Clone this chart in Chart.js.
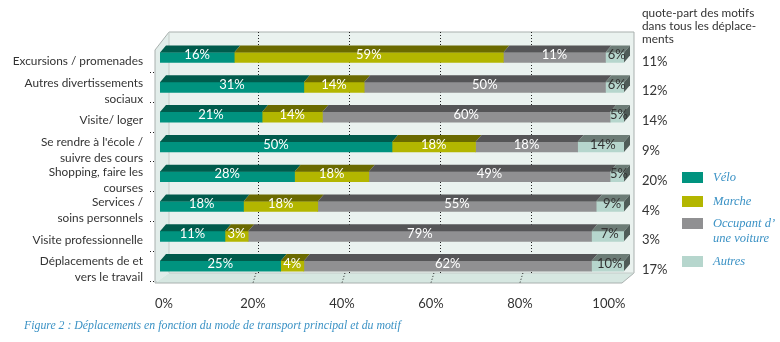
<!DOCTYPE html>
<html>
<head>
<meta charset="utf-8">
<script src="https://cdn.jsdelivr.net/npm/chart.js@4/dist/chart.umd.min.js"></script>
<style>
  body { margin: 0; background: #fff; }
  #wrap { width: 780px; height: 342px; }
</style>
</head>
<body>
<div id="wrap"><canvas id="chart" width="780" height="342"></canvas></div>
<script>
const motifs = [
    'Excursions / promenades',
    ['Autres divertissements', 'sociaux'],
    'Visite/ loger',
    ['Se rendre à l\'école /', 'suivre des cours'],
    ['Shopping, faire les', 'courses'],
    ['Services /', 'soins personnels'],
    'Visite professionnelle',
    ['Déplacements de et', 'vers le travail']
];

// bar lengths (%)
const velo    = [16, 31, 22, 50, 29, 18, 14, 26];
const marche  = [58, 13, 13, 18, 16, 16,  5,  5];
const voiture = [22, 52, 62, 22, 52, 60, 74, 62];
const autres  = [ 4,  4,  3, 10,  3,  6,  7,  7];

// printed labels on the bars
const veloLbl    = [16, 31, 21, 50, 28, 18, 11, 25];
const marcheLbl  = [59, 14, 14, 18, 18, 18,  3,  4];
const voitureLbl = [11, 50, 60, 18, 49, 55, 79, 62];
const autresLbl  = [ 6,  6,  5, 14,  5,  9,  7, 10];

// quote-part des motifs dans tous les déplacements
const quotePart = [11, 12, 14, 9, 20, 4, 3, 17];

const xTicks = [0, 20, 40, 60, 80, 100];

const fronts = ['#00937f', '#b3b600', '#909092', '#b6d6cd'];
const tops   = ['#005b4c', '#6a6a00', '#555557', '#6c7c76'];
const legendNames = [['Vélo'], ['Marche'], ['Occupant d’', 'une voiture'], ['Autres']];

const textCol = '#333333';
const blueCol = '#3b92c5';
const sans = 'Lato';
const DX = 6, DY = -7;

const walls3d = {
    id: 'walls3d',
    beforeDatasetsDraw(chart) {
        const { ctx, chartArea: ca, scales } = chart;
        const x = scales.x, xt = scales.xt;
        const bl = ca.left - 5, bt = ca.top - 10.6, br = ca.right + 10, bb = ca.bottom - 8;
        ctx.save();
        // back wall
        ctx.fillStyle = '#eaf2ef';
        ctx.fillRect(ca.left + 9, bt, br - ca.left - 9, bb - bt);
        // left wall
        ctx.fillStyle = '#e2edea';
        ctx.beginPath();
        ctx.moveTo(bl, bt + 18);
        ctx.lineTo(ca.left + 9, bt);
        ctx.lineTo(ca.left + 9, bb);
        ctx.lineTo(bl, ca.bottom + 2);
        ctx.closePath();
        ctx.fill();
        // floor
        ctx.fillStyle = '#d6e7e1';
        ctx.beginPath();
        ctx.moveTo(bl, ca.bottom + 2);
        ctx.lineTo(ca.left + 9, bb);
        ctx.lineTo(br, bb);
        ctx.lineTo(ca.right - 2, ca.bottom + 2);
        ctx.closePath();
        ctx.fill();
        // outlines
        ctx.strokeStyle = '#a9b0ae';
        ctx.lineWidth = 1;
        ctx.beginPath();
        ctx.moveTo(bl, ca.bottom + 2);
        ctx.lineTo(bl, bt + 18);
        ctx.lineTo(ca.left + 9, bt);
        ctx.lineTo(br, bt);
        ctx.lineTo(br, bb);
        ctx.lineTo(ca.right - 2, ca.bottom + 2);
        ctx.lineTo(bl, ca.bottom + 2);
        ctx.stroke();
        ctx.strokeStyle = '#c4ccc9';
        ctx.beginPath();
        ctx.moveTo(ca.left + 9, bt);
        ctx.lineTo(ca.left + 9, bb);
        ctx.lineTo(br, bb);
        ctx.stroke();
        // dotted grid on back wall and floor
        ctx.strokeStyle = '#222';
        ctx.setLineDash([1, 2]);
        xTicks.slice(1, -1).forEach(v => {
            const gx = Math.round(x.getPixelForValue(v) * 0.98 + 10) + 0.5;
            ctx.beginPath();
            ctx.moveTo(gx, bt);
            ctx.lineTo(gx, bb);
            ctx.stroke();
            const fx = xt.getPixelForValue(v);
            ctx.beginPath();
            ctx.moveTo(fx + 3, bb);
            ctx.lineTo(fx, ca.bottom + 2);
            ctx.stroke();
        });
        ctx.restore();
    },
    afterDatasetsDraw(chart) {
        const { ctx } = chart;
        const n = chart.data.datasets.length;
        ctx.save();
        chart.data.datasets.forEach((ds, di) => {
            chart.getDatasetMeta(di).data.forEach(bar => {
                const left = Math.min(bar.base, bar.x), right = Math.max(bar.base, bar.x);
                const top = bar.y - bar.height / 2, bottom = bar.y + bar.height / 2;
                ctx.fillStyle = tops[di];
                ctx.beginPath();
                ctx.moveTo(left, top);
                ctx.lineTo(left + DX, top + DY);
                ctx.lineTo(right + DX, top + DY);
                ctx.lineTo(right, top);
                ctx.closePath();
                ctx.fill();
                if (di === n - 1) {
                    ctx.fillStyle = '#4f5c58';
                    ctx.beginPath();
                    ctx.moveTo(right, top);
                    ctx.lineTo(right + DX, top + DY);
                    ctx.lineTo(right + DX, bottom + DY);
                    ctx.lineTo(right, bottom);
                    ctx.closePath();
                    ctx.fill();
                }
            });
        });
        // bar labels
        const labelSets = [veloLbl, marcheLbl, voitureLbl, autresLbl];
        ctx.font = '13px ' + sans;
        ctx.textAlign = 'center';
        ctx.textBaseline = 'middle';
        chart.data.datasets.forEach((ds, di) => {
            chart.getDatasetMeta(di).data.forEach((bar, i) => {
                ctx.fillStyle = di === n - 1 ? textCol : '#ffffff';
                let cx = (bar.base + bar.x) / 2;
                if (di === n - 1) cx += 2;
                ctx.fillText(labelSets[di][i] + '%', cx, bar.y - 2.5);
            });
        });
        ctx.restore();
    },
    afterDraw(chart) {
        const { ctx, chartArea: ca, scales } = chart;
        const y = scales.y;
        ctx.save();
        ctx.fillStyle = textCol;
        ctx.textAlign = 'left';
        ctx.textBaseline = 'middle';
        ctx.font = '11.8px ' + sans;
        const colX = ca.right + 18;
        ['quote-part des motifs', 'dans tous les déplace-', 'ments'].forEach((t, i) => {
            ctx.fillText(t, colX, 13 + i * 13.3);
        });
        ctx.font = '13px ' + sans;
        quotePart.forEach((v, i) => {
            ctx.fillText(v + '%', colX, y.getPixelForValue(i) + 4);
        });
        // legend
        const lx = ca.right + 58, tx = ca.right + 89;
        const swTop = [172, 196, 218, 256];
        ctx.font = 'italic 12.5px "Liberation Serif"';
        chart.data.datasets.forEach((ds, di) => {
            ctx.fillStyle = ds.backgroundColor;
            ctx.fillRect(lx, swTop[di], 21, 11);
            ctx.fillStyle = blueCol;
            legendNames[di].forEach((t, k) => {
                ctx.fillText(t, tx, swTop[di] + 5.5 + k * 15);
            });
        });
        // caption
        ctx.font = 'italic 11.8px "Liberation Serif"';
        ctx.fillText('Figure 2 : Déplacements en fonction du mode de transport principal et du motif', 24, 326);
        ctx.restore();
    }
};

const names = ['Vélo', 'Marche', 'Occupant d’une voiture', 'Autres'];
const series = [velo, marche, voiture, autres];

new Chart(document.getElementById('chart'), {
    type: 'bar',
    data: {
        labels: motifs,
        datasets: series.map((s, i) => ({
            label: names[i],
            data: s,
            backgroundColor: fronts[i],
            borderWidth: 0,
            barThickness: 10,
            xAxisID: 'x'
        }))
    },
    options: {
        indexAxis: 'y',
        responsive: false,
        animation: false,
        layout: { padding: { left: 0, right: 156, top: 42.6, bottom: 0 } },
        plugins: { legend: { display: false }, tooltip: { enabled: false } },
        scales: {
            x: { type: 'linear', stacked: true, min: 0, max: 100, display: false },
            xt: {
                type: 'linear',
                position: 'bottom',
                min: -0.9,
                max: 103.4,
                afterBuildTicks: s => { s.ticks = xTicks.map(v => ({ value: v })); },
                afterFit: s => { s.height = 61; },
                grid: { display: false },
                border: { display: false },
                ticks: {
                    padding: 7,
                    color: textCol,
                    font: { family: sans, size: 13 },
                    callback: v => v + '%'
                }
            },
            y: {
                stacked: true,
                afterFit: s => { s.width = 160; },
                border: { display: false },
                grid: {
                    drawOnChartArea: false,
                    drawTicks: true,
                    tickLength: 10,
                    tickBorderDash: [1, 2],
                    tickColor: ctx => (ctx.index === 0 || ctx.index >= motifs.length) ? 'rgba(0,0,0,0)' : '#222'
                },
                ticks: {
                    autoSkip: false,
                    padding: 7,
                    labelOffset: 3.5,
                    color: textCol,
                    font: { family: sans, size: 11.8, lineHeight: 1.35 }
                }
            }
        }
    },
    plugins: [walls3d]
});
</script>
</body>
</html>
